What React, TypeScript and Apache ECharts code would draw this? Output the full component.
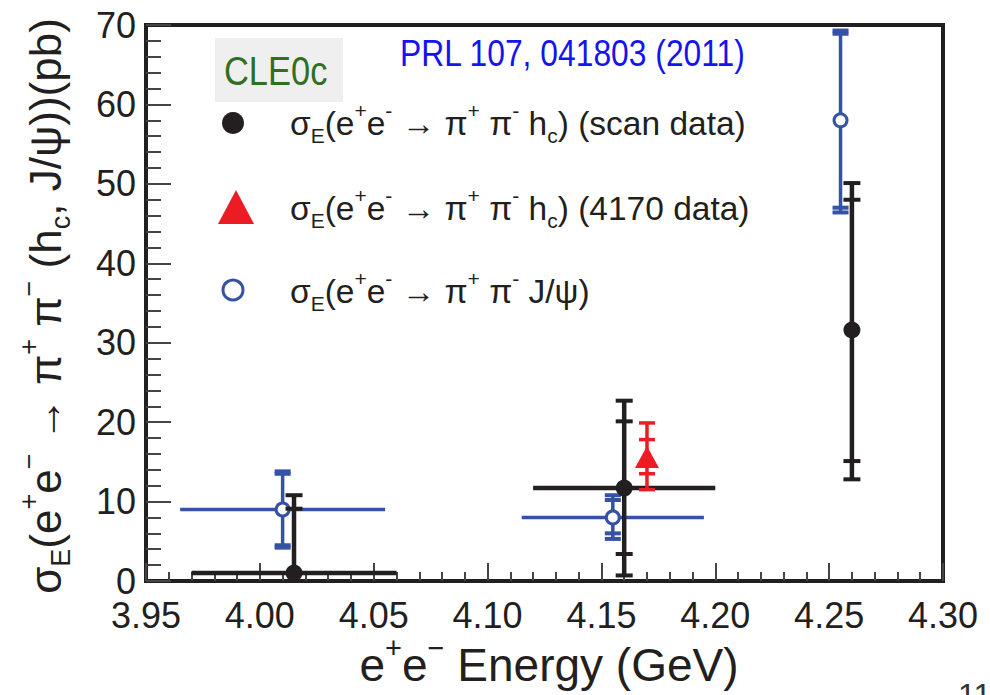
import React, { useEffect, useRef } from "react";
import * as echarts from "echarts";

// ---- data ----
// pi+ pi- h_c, scan data (black filled circles)
const scanEnergy = [4.015, 4.16, 4.26];
const scanXsec = [1.0, 11.7, 31.6];
const scanStatLo: (number | null)[] = [null, 3.4, 15.1];
const scanStatHi: (number | null)[] = [9.1, 20.1, 48.0];
const scanTotLo: (number | null)[] = [null, 0.7, 12.8];
const scanTotHi: (number | null)[] = [10.8, 22.7, 50.1];
const scanBinLo: (number | null)[] = [3.97, 4.12, null];
const scanBinHi: (number | null)[] = [4.06, 4.2, null];

// pi+ pi- h_c, 4170 data (red triangle)
const d4170Energy = [4.17];
const d4170Xsec = [15.5];
const d4170StatLo: (number | null)[] = [13.5];
const d4170StatHi: (number | null)[] = [17.8];
const d4170TotLo: (number | null)[] = [11.5];
const d4170TotHi: (number | null)[] = [19.9];
const d4170BinLo: (number | null)[] = [null];
const d4170BinHi: (number | null)[] = [null];

// pi+ pi- J/psi (blue open circles)
const jpsiEnergy = [4.01, 4.155, 4.255];
const jpsiXsec = [9.0, 8.0, 58.0];
const jpsiStatLo: (number | null)[] = [4.5, 6.0, 47.0];
const jpsiStatHi: (number | null)[] = [13.5, 10.2, 68.9];
const jpsiTotLo: (number | null)[] = [4.2, 5.3, 46.4];
const jpsiTotHi: (number | null)[] = [13.8, 10.8, 69.3];
const jpsiBinLo: (number | null)[] = [3.965, 4.115, null];
const jpsiBinHi: (number | null)[] = [4.055, 4.195, null];

const xMin = 3.95;
const xMax = 4.3;
const xStep = 0.05;
const yMin = 0;
const yMax = 70;
const yStep = 10;

const BLACK = "#231f20";
const BLUE = "#3552a5";
const RED = "#ec1c24";
const FONT = "'Liberation Sans', Arial, Helvetica, sans-serif";

type Cfg = {
  name: string;
  energy: number[];
  xsec: number[];
  statLo: (number | null)[];
  statHi: (number | null)[];
  totLo: (number | null)[];
  totHi: (number | null)[];
  binLo: (number | null)[];
  binHi: (number | null)[];
  color: string;
  vWidth: number;
  hWidth: number;
  capW: number;
  capT: number;
  marker: "dot" | "ring" | "triangle";
  z: number;
};

function makeSeries(c: Cfg) {
  return {
    type: "custom",
    name: c.name,
    z: c.z,
    data: c.energy.map((e, i) => [e, c.xsec[i]]),
    renderItem: (params: any, api: any) => {
      const i = params.dataIndex;
      const x = api.value(0);
      const y = api.value(1);
      const p = api.coord([x, y]);
      const children: any[] = [];
      const bl = c.binLo[i];
      const bh = c.binHi[i];
      if (bl != null && bh != null) {
        const a = api.coord([bl, y]);
        const b = api.coord([bh, y]);
        children.push({
          type: "line",
          shape: { x1: a[0], y1: a[1], x2: b[0], y2: b[1] },
          style: { stroke: c.color, lineWidth: c.hWidth },
        });
      }
      const hi = c.totHi[i] != null ? (c.totHi[i] as number) : y;
      const lo = c.totLo[i] != null ? (c.totLo[i] as number) : 0;
      const t = api.coord([x, hi]);
      const bt = api.coord([x, lo]);
      children.push({
        type: "line",
        shape: { x1: p[0], y1: t[1], x2: p[0], y2: bt[1] },
        style: { stroke: c.color, lineWidth: c.vWidth },
      });
      [c.statLo[i], c.statHi[i], c.totLo[i], c.totHi[i]].forEach((v) => {
        if (v == null) return;
        const q = api.coord([x, v]);
        children.push({
          type: "rect",
          shape: { x: p[0] - c.capW / 2, y: q[1] - c.capT / 2, width: c.capW, height: c.capT },
          style: { fill: c.color },
        });
      });
      if (c.marker === "dot") {
        children.push({ type: "circle", shape: { cx: p[0], cy: p[1], r: 8.5 }, style: { fill: c.color } });
      } else if (c.marker === "ring") {
        children.push({
          type: "circle",
          shape: { cx: p[0], cy: p[1], r: 6.5 },
          style: { fill: "#fff", stroke: c.color, lineWidth: 3 },
        });
      } else {
        const s = 12;
        children.push({
          type: "polygon",
          shape: { points: [[p[0], p[1] - s], [p[0] + s, p[1] + s * 0.85], [p[0] - s, p[1] + s * 0.85]] },
          style: { fill: c.color },
        });
      }
      return { type: "group", children };
    },
  };
}

function legendRich(size: number) {
  const sub = Math.round(size * 0.62);
  return {
    n: { fontSize: size, fontFamily: FONT, fill: BLACK, lineHeight: size * 1.35 },
    sup: { fontSize: sub, fontFamily: FONT, fill: BLACK, verticalAlign: "top", lineHeight: sub * 1.3 },
    sub: { fontSize: sub, fontFamily: FONT, fill: BLACK, verticalAlign: "bottom", lineHeight: sub * 1.3 },
  };
}

const hcText = "{n|σ}{sub|E}{n|(e}{sup|+}{n|e}{sup|-}{n| → π}{sup|+}{n| π}{sup|-}{n| h}{sub|c}{n|)}";

export default function App() {
  const ref = useRef<HTMLDivElement>(null);
  useEffect(() => {
    if (!ref.current) return;
    const chart = echarts.init(ref.current, null, { renderer: "svg" });
    const axisLabel = { fontSize: 36, color: BLACK, fontFamily: FONT };
    chart.setOption({
      animation: false,
      backgroundColor: "#ffffff",
      grid: {
        left: 146,
        right: 47,
        top: 25,
        bottom: 114,
        show: true,
        borderColor: BLACK,
        borderWidth: 4,
        backgroundColor: "transparent",
      },
      xAxis: {
        type: "value",
        min: xMin,
        max: xMax,
        interval: xStep,
        axisLine: { show: true, lineStyle: { color: BLACK, width: 4 } },
        axisTick: { show: true, inside: true, length: 18, lineStyle: { color: "#444", width: 2 } },
        minorTick: { show: true, splitNumber: 5, length: 9, lineStyle: { color: "#444", width: 2 } },
        splitLine: { show: false },
        axisLabel: { ...axisLabel, margin: 16, formatter: (v: number) => v.toFixed(2) },
      },
      yAxis: {
        type: "value",
        min: yMin,
        max: yMax,
        interval: yStep,
        axisLine: { show: true, lineStyle: { color: BLACK, width: 4 } },
        axisTick: { show: true, inside: true, length: 25, lineStyle: { color: "#444", width: 2 } },
        minorTick: { show: true, splitNumber: 5, length: 15, lineStyle: { color: "#444", width: 2 } },
        splitLine: { show: false },
        axisLabel: { ...axisLabel, margin: 10 },
      },
      series: [
        makeSeries({
          name: "jpsi",
          energy: jpsiEnergy,
          xsec: jpsiXsec,
          statLo: jpsiStatLo,
          statHi: jpsiStatHi,
          totLo: jpsiTotLo,
          totHi: jpsiTotHi,
          binLo: jpsiBinLo,
          binHi: jpsiBinHi,
          color: BLUE,
          vWidth: 3.5,
          hWidth: 3.5,
          capW: 16,
          capT: 4,
          marker: "ring",
          z: 3,
        }),
        makeSeries({
          name: "scan",
          energy: scanEnergy,
          xsec: scanXsec,
          statLo: scanStatLo,
          statHi: scanStatHi,
          totLo: scanTotLo,
          totHi: scanTotHi,
          binLo: scanBinLo,
          binHi: scanBinHi,
          color: BLACK,
          vWidth: 4.5,
          hWidth: 4.5,
          capW: 17,
          capT: 4,
          marker: "dot",
          z: 4,
        }),
        makeSeries({
          name: "4170",
          energy: d4170Energy,
          xsec: d4170Xsec,
          statLo: d4170StatLo,
          statHi: d4170StatHi,
          totLo: d4170TotLo,
          totHi: d4170TotHi,
          binLo: d4170BinLo,
          binHi: d4170BinHi,
          color: RED,
          vWidth: 3.5,
          hWidth: 3.5,
          capW: 16,
          capT: 3.5,
          marker: "triangle",
          z: 5,
        }),
      ],
      graphic: [
        // CLEOc badge
        { type: "rect", shape: { x: 215, y: 38, width: 128, height: 64 }, style: { fill: "#efefef" }, z: 1 },
        {
          type: "text",
          x: 224,
          y: 71,
          scaleX: 0.84,
          z: 2,
          style: { text: "CLE0c", fontSize: 41, fontFamily: FONT, fill: "#2f6f1f", verticalAlign: "middle" },
        },
        {
          type: "text",
          x: 400,
          y: 53,
          scaleX: 0.86,
          z: 2,
          style: { text: "PRL 107, 041803 (2011)", fontSize: 37, fontFamily: FONT, fill: "#1414f0", verticalAlign: "middle" },
        },
        // legend markers
        { type: "circle", shape: { cx: 233, cy: 123, r: 11 }, style: { fill: BLACK }, z: 2 },
        {
          type: "polygon",
          shape: { points: [[236, 190], [254, 224], [218, 224]] },
          style: { fill: RED },
          z: 2,
        },
        { type: "circle", shape: { cx: 233, cy: 290, r: 10 }, style: { fill: "#fff", stroke: BLUE, lineWidth: 3 }, z: 2 },
        // legend texts
        {
          type: "text",
          x: 290,
          y: 123,
          z: 2,
          style: { text: hcText + "{n| (scan data)}", rich: legendRich(33.5), verticalAlign: "middle" },
        },
        {
          type: "text",
          x: 290,
          y: 208,
          z: 2,
          style: { text: hcText + "{n| (4170 data)}", rich: legendRich(33.5), verticalAlign: "middle" },
        },
        {
          type: "text",
          x: 290,
          y: 291,
          z: 2,
          style: {
            text: "{n|σ}{sub|E}{n|(e}{sup|+}{n|e}{sup|-}{n| → π}{sup|+}{n| π}{sup|-}{n| J/ψ)}",
            rich: legendRich(33.5),
            verticalAlign: "middle",
          },
        },
        // y-axis title
        {
          type: "text",
          x: 45,
          y: 306,
          rotation: Math.PI / 2,
          style: {
            text: "{n|σ}{sub|E}{n|(e}{sup|+}{n|e}{sup|−}{n| → π}{sup|+}{n| π}{sup|−}{n| (h}{sub|c}{n|, J/ψ))(pb)}",
            rich: legendRich(44),
            align: "center",
            verticalAlign: "middle",
          },
        },
        // x-axis title
        {
          type: "text",
          x: 549,
          y: 665,
          style: {
            text: "{n|e}{sup|+}{n|e}{sup|−}{n| Energy (GeV)}",
            rich: legendRich(46),
            align: "center",
            verticalAlign: "middle",
          },
        },
        // slide page number (cut off at the bottom edge)
        {
          type: "text",
          x: 958,
          y: 679,
          style: { text: "11", fontSize: 32, fontFamily: FONT, fill: "#333", verticalAlign: "top" },
        },
      ],
    });
    return () => chart.dispose();
  }, []);
  return <div ref={ref} style={{ width: 990, height: 695, position: "absolute", left: 0, top: 0 }} />;
}
